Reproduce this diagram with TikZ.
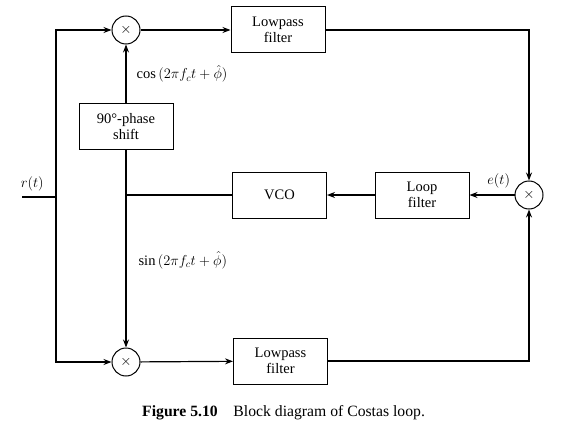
\documentclass[tikz,border=0pt]{standalone}
\usepackage{fontspec}
\setmainfont{Liberation Serif}
\usepackage{amsmath}
\usepackage{amssymb}
\usetikzlibrary{arrows.meta,positioning,calc}

\begin{document}
\begin{tikzpicture}[
  x=1pt, y=-1pt,
  block/.style={draw, line width=1pt, minimum width=94pt, minimum height=46pt,
                inner sep=0pt, align=center, font=\fontsize{14.5}{16}\selectfont},
  mult/.style={draw, circle, line width=1pt, minimum size=28pt, inner sep=0pt,
               font=\fontsize{14.5}{16}\selectfont},
  lbl/.style={font=\fontsize{14.5}{16}\selectfont, inner sep=0pt},
  arr/.style={-{Stealth[length=8pt,width=6pt]}, line width=1.2pt},
  wire/.style={line width=1.2pt}
]
\useasboundingbox (0,0) rectangle (562,425);

% blocks
\node[mult] (multtop) at (126,30) {$\times$};
\node[block] (lpftop) at (278,30) {Lowpass\\filter};
\node[block] (phase) at (126,126.5) {90\textdegree-phase\\shift};
\node[block] (vco) at (279.5,195) {VCO};
\node[block] (loopf) at (422,195) {Loop\\filter};
\node[mult] (multright) at (529,195) {$\times$};
\node[mult] (multbot) at (126,362) {$\times$};
\node[block] (lpfbot) at (280.5,361) {Lowpass\\filter};

% input and junctions
\coordinate (rin) at (22,197);
\coordinate (rjoin) at (56,197);
\coordinate (vjoin) at (126,195);

\draw[wire] (rin) -- node[lbl, above=5pt, pos=0.3] {$r(t)$} (rjoin);
\draw[arr] (rjoin) |- (multtop);
\draw[arr] (rjoin) |- (multbot);

% upper branch
\draw[arr] (multtop) -- (lpftop);
\draw[arr] (lpftop.east) -| (multright);
\draw[arr] (phase) -- node[lbl, right=10pt] {$\cos\,(2\pi f_c t+\hat{\phi})$} (multtop);

% lower branch
\draw[arr] (phase.south) -- node[lbl, right=12pt, pos=0.56] {$\sin\,(2\pi f_c t+\hat{\phi})$} (multbot);
\draw[arr] (multbot) -- (lpfbot);
\draw[arr] (lpfbot.east) -| (multright);

% loop
\draw[arr] (multright) -- node[lbl, above=6pt, pos=0.35] {$e(t)$} (loopf);
\draw[arr] (loopf) -- (vco);
\draw[wire] (vco.west) -- (vjoin);

% caption
\node[lbl, anchor=west, font=\fontsize{15.7}{17}\selectfont] (caption) at (142,413) {\textbf{Figure 5.10}\quad Block diagram of Costas loop.};
\end{tikzpicture}
\end{document}
